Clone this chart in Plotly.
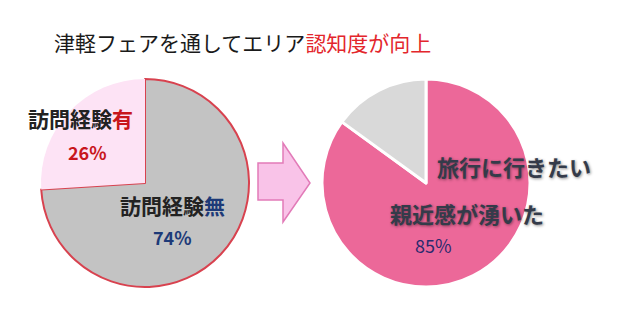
import plotly.graph_objects as go

W, H = 620, 323

# ---- data ----
title_black = "津軽フェアを通してエリア"
title_red = "認知度が向上"

left_labels = ["訪問経験無", "訪問経験有"]
left_values = [74, 26]

right_labels = ["親近感が湧いた", "旅行に行きたい"]
right_values = [85, 15]

FONT = "Noto Sans CJK JP"

def px(x):
    return x / W

def py(y):
    return 1 - y / H

fig = go.Figure()

# left pie
fig.add_trace(go.Pie(
    values=left_values, labels=left_labels, sort=False, direction="clockwise",
    rotation=0, textinfo="none", hoverinfo="label+percent",
    marker=dict(colors=["#c3c3c3", "#fde3f5"],
                line=dict(color=["#d8424f", "#fde3f5"], width=[2, 0])),
    domain=dict(x=[px(41), px(249)], y=[py(287), py(79)]),
    showlegend=False,
))

# right pie
fig.add_trace(go.Pie(
    values=right_values, labels=right_labels, sort=False, direction="clockwise",
    rotation=0, textinfo="none", hoverinfo="label+percent",
    marker=dict(colors=["#ec6899", "#d9d9d9"], line=dict(color="white", width=3)),
    domain=dict(x=[px(322), px(530)], y=[py(287), py(79)]),
    showlegend=False,
))

annotations = []

def ann(x, y, text, size, color, weight="normal", shadow=None, xanchor="center"):
    f = dict(family=FONT, size=size, color=color, weight=weight)
    if shadow:
        f["shadow"] = shadow
    annotations.append(dict(
        x=px(x), y=py(y), xref="paper", yref="paper", xanchor=xanchor, yanchor="middle",
        text=text, showarrow=False, font=f,
    ))

# title
ann(52, 42, f"{title_black}<span style='color:#e3262c'>{title_red}</span>", 21, "#1a1a1a",
    xanchor="left")

# left labels
ann(80, 118, f"{left_labels[1][:-1]}<span style='color:#c8161d'>{left_labels[1][-1]}</span>",
    21, "#222222", "bold")
ann(87, 152, f"{left_values[1]}%", 18, "#c8161d", "bold")
ann(172, 205, f"{left_labels[0][:-1]}<span style='color:#1d3a78'>{left_labels[0][-1]}</span>",
    21, "#222222", "bold")
ann(172, 237, f"{left_values[0]}%", 18, "#1d3a78", "bold")

# right labels
shadow = "1px 1px 3px rgba(0,0,0,0.45)"
ann(514, 166, right_labels[1], 22, "#343b4a", "bold", shadow)
ann(467, 213, right_labels[0], 22, "#343b4a", "bold", shadow)
ann(433, 245, f"{right_values[0]}%", 18, "#2a2a6e")

# arrow decoration
pts = [(258, 163), (283, 163), (283, 143), (310, 183), (283, 222), (283, 200), (258, 200)]
path = "M " + " L ".join(f"{px(x):.5f},{py(y):.5f}" for x, y in pts) + " Z"
fig.add_shape(type="path", path=path, xref="paper", yref="paper",
              fillcolor="#f9c3e8", line=dict(color="#e27bb8", width=1.5))

fig.update_layout(
    width=W, height=H, margin=dict(l=0, r=0, t=0, b=0),
    paper_bgcolor="white", plot_bgcolor="white",
    annotations=annotations,
)

fig.write_html("out.html")
